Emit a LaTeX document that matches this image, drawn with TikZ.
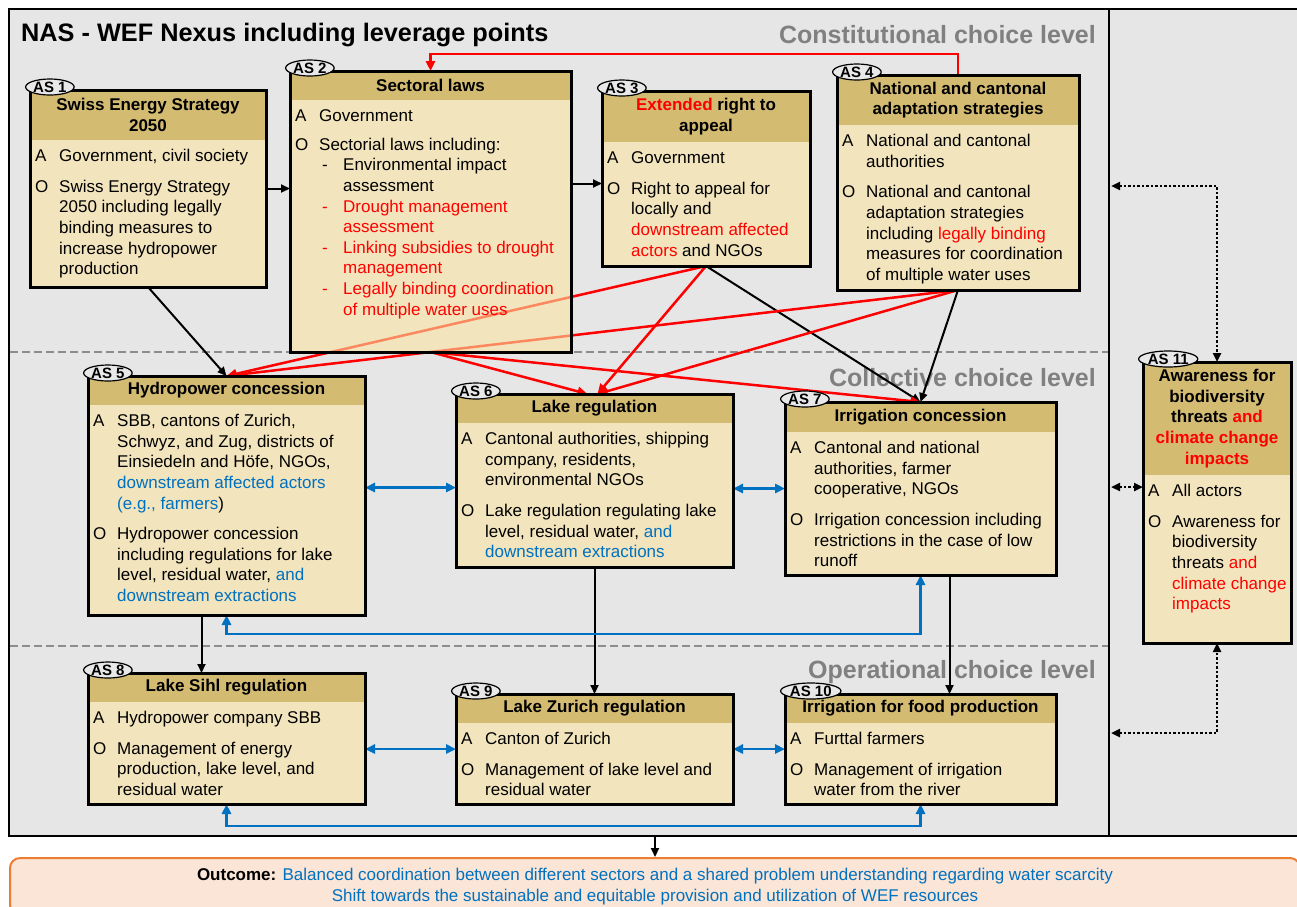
\documentclass[tikz,border=0pt]{standalone}
\usepackage{fontspec}
\setmainfont{Liberation Sans}
\usetikzlibrary{shapes.geometric,arrows.meta,calc,positioning}

\definecolor{hdrtan}{HTML}{D4BB72}
\definecolor{bodytan}{HTML}{F2E4BC}
\definecolor{as2see}{HTML}{FAE3A0}
\definecolor{bggrey}{HTML}{E6E6E6}
\definecolor{levelgrey}{HTML}{808080}
\definecolor{linkblue}{HTML}{0070C0}
\definecolor{linkred}{HTML}{FF0000}
\definecolor{outfill}{HTML}{FBE5D6}
\definecolor{outline}{HTML}{ED7D31}
\definecolor{tagfill}{HTML}{E8E8E8}

\pgfdeclarelayer{background}
\pgfdeclarelayer{links}
\pgfsetlayers{background,links,main}

\newcommand{\hlred}[1]{\textcolor{linkred}{#1}}
\newcommand{\hlblue}[1]{\textcolor{linkblue}{#1}}
\newcommand{\lawitem}[1]{\makebox[24pt][l]{\hspace{3pt}-}#1}
\newcommand{\lawcont}[1]{\hspace{24pt}#1}
\newenvironment{aolist}{\begin{tabular}{@{}p{24pt}@{}l@{}}}{\end{tabular}}

\tikzset{
  asframe/.style={draw, line width=3pt, fill=bodytan, anchor=north west, inner sep=0pt, outer sep=0pt},
  hdrtext/.style={font=\bfseries\fontsize{17}{20.6}\selectfont, align=center, inner sep=0pt},
  bodytext/.style={font=\fontsize{17}{20.6}\selectfont, anchor=north west, inner sep=0pt},
  astag/.style={ellipse, draw, line width=1.2pt, fill=tagfill, inner xsep=0.5pt, inner ysep=0pt,
    minimum height=16pt, font=\bfseries\fontsize{15}{15}\selectfont},
  levellabel/.style={font=\bfseries\fontsize{25}{25}\selectfont, text=levelgrey, anchor=base east, inner sep=0pt},
  levelsep/.style={draw=levelgrey!90, line width=2.5pt, dash pattern=on 8pt off 4pt},
  blk/.style={line width=2pt, -{Triangle[length=9pt,width=8pt]}},
  redlink/.style={linkred, line width=2.5pt, -{Triangle[length=10pt,width=9pt]}},
  blulink/.style={linkblue, line width=2.5pt, {Triangle[length=10pt,width=9pt]}-{Triangle[length=10pt,width=9pt]}},
  dotlink/.style={line width=2.5pt, dotted, {Triangle[length=9pt,width=8pt]}-{Triangle[length=9pt,width=8pt]}},
  outbox/.style={draw=outline, line width=2pt, fill=outfill, rounded corners=10pt, minimum width=1290pt,
    minimum height=57pt, align=center, font=\fontsize{17}{21}\selectfont},
}

% action situation box: [opts]{no}{x}{y}{width}{height}{header height}{header}{rows}
\newcommand{\asbox}[9][]{%
  \node[asframe, minimum width=#5pt, minimum height=#6pt, #1] (as#2) at (#3,#4) {};
  \fill[hdrtan] ([shift={(1.5pt,-1.5pt)}]as#2.north west) rectangle ([shift={(-1.5pt,-#7pt)}]as#2.north east);
  \node[hdrtext] (as#2h) at ([yshift=-#7pt/2]as#2.north) {#8};
  \node[bodytext] (as#2b) at ([shift={(5pt,-#7pt-7pt)}]as#2.north west) {\begin{aolist}#9\end{aolist}};
  \node[astag, anchor=west] (as#2t) at ([shift={(-5pt,3pt)}]as#2.north west) {AS #2};
}

\begin{document}
\begin{tikzpicture}[x=1pt,y=-1pt]
    \useasboundingbox (0,0) rectangle (1297,906);

    % frame, levels and title
    \begin{pgfonlayer}{background}
        \node[draw, line width=2pt, fill=bggrey, anchor=north west, minimum width=1292pt,
            minimum height=827pt, inner sep=0pt, outer sep=0pt] (frame) at (9,9) {};
        \coordinate (septop) at (1109,9);
        \coordinate (sepbot) at (1109,836);
        \draw[line width=2pt] (septop) -- (sepbot);
        \draw[levelsep] (10,352) -- (1108,352);
        \draw[levelsep] (10,646) -- (1108,646);
        \node[levellabel] (constlevel) at (1096,43) {Constitutional choice level};
        \node[levellabel] (colllevel) at (1096,386) {Collective choice level};
        \node[levellabel] (oplevel) at (1096,678) {Operational choice level};
    \end{pgfonlayer}
    \node[font=\bfseries\fontsize{25.3}{25}\selectfont, anchor=base west, inner sep=0pt] (title) at (21,41)
        {NAS - WEF Nexus including leverage points};

    % constitutional choice level
    \asbox{1}{30}{90}{236}{197}{50}{Swiss Energy Strategy\\2050}{%
        A & Government, civil society\\[10pt]
        O & Swiss Energy Strategy\\
          & 2050 including legally\\
          & binding measures to\\
          & increase hydropower\\
          & production}
    \asbox[fill=as2see, fill opacity=0.6]{2}{290}{71}{281}{281}{29}{Sectoral laws}{%
        A & Government\\[8pt]
        O & Sectorial laws including:\\
          & \lawitem{Environmental impact}\\
          & \lawcont{assessment}\\
          & \hlred{\lawitem{Drought management}}\\
          & \hlred{\lawcont{assessment}}\\
          & \hlred{\lawitem{Linking subsidies to drought}}\\
          & \hlred{\lawcont{management}}\\
          & \hlred{\lawitem{Legally binding coordination}}\\
          & \hlred{\lawcont{of multiple water uses}}}
    \asbox{3}{602}{91}{208}{175}{51}{\hlred{Extended} right to\\appeal}{%
        A & Government\\[10pt]
        O & Right to appeal for\\
          & locally and\\
          & \hlred{downstream affected}\\
          & \hlred{actors} and NGOs}
    \asbox{4}{837}{75}{242}{215}{50}{National and cantonal\\adaptation strategies}{%
        A & National and cantonal\\
          & authorities\\[10pt]
        O & National and cantonal\\
          & adaptation strategies\\
          & including \hlred{legally binding}\\
          & measures for coordination\\
          & of multiple water uses}

    % collective choice level
    \asbox{5}{88}{376}{277}{239}{29}{Hydropower concession}{%
        A & SBB, cantons of Zurich,\\
          & Schwyz, and Zug, districts of\\
          & Einsiedeln and Höfe, NGOs,\\
          & \hlblue{downstream affected actors}\\
          & \hlblue{(e.g., farmers})\\[10pt]
        O & Hydropower concession\\
          & including regulations for lake\\
          & level, residual water, \hlblue{and}\\
          & \hlblue{downstream extractions}}
    \asbox{6}{456}{394}{277}{173}{29}{Lake regulation}{%
        A & Cantonal authorities, shipping\\
          & company, residents,\\
          & environmental NGOs\\[10pt]
        O & Lake regulation regulating lake\\
          & level, residual water, \hlblue{and}\\
          & \hlblue{downstream extractions}}
    \asbox{7}{785}{402}{271}{173}{30}{Irrigation concession}{%
        A & Cantonal and national\\
          & authorities, farmer\\
          & cooperative, NGOs\\[10pt]
        O & Irrigation concession including\\
          & restrictions in the case of low\\
          & runoff}

    % operational choice level
    \asbox{8}{88}{673}{277}{131}{29}{Lake Sihl regulation}{%
        A & Hydropower company SBB\\[10pt]
        O & Management of energy\\
          & production, lake level, and\\
          & residual water}
    \asbox{9}{456}{694}{277}{110}{29}{Lake Zurich regulation}{%
        A & Canton of Zurich\\[10pt]
        O & Management of lake level and\\
          & residual water}
    \asbox{10}{785}{694}{271}{110}{29}{Irrigation for food production}{%
        A & Furttal farmers\\[10pt]
        O & Management of irrigation\\
          & water from the river}

    % awareness, across all levels
    \asbox{11}{1143}{362}{148}{281}{113}{Awareness for\\biodiversity\\threats \hlred{and}\\\hlred{climate change}\\\hlred{impacts}}{%
        A & All actors\\[10pt]
        O & Awareness for\\
          & biodiversity\\
          & threats \hlred{and}\\
          & \hlred{climate change}\\
          & \hlred{impacts}}

    % outcome
    \node[outbox] (outcome) at (655,886.5) {\textbf{Outcome:} \hlblue{Balanced coordination between different sectors and a shared problem understanding regarding water scarcity}\\
        \hlblue{Shift towards the sustainable and equitable provision and utilization of WEF resources}};

    \begin{pgfonlayer}{links}
        % black links
        \draw[blk] (as1.east) -- (as1.east -| as2.west);
        \draw[blk] ($(as2.east |- as3.west)+(0,5)$) -- ($(as3.west)+(0,5)$);
        \draw[blk] (as1.south) -- (as5.north);
        \draw[blk] (as3.south) -- (as7.north);
        \draw[blk] (as4.south) -- (as7.north);
        \draw[blk] ($(as5.south)+(-25,0)$) -- ($(as8.north)+(-25,0)$);
        \draw[blk] (as6.south) -- (as9.north);
        \draw[blk] ($(as7.south)+(29,0)$) -- ($(as10.north)+(29,0)$);
        \draw[blk] (frame.south) -- (outcome.north);
        % leverage points
        \draw[redlink] (as4.north) -- ++(0,-21) -| (as2.north);
        \draw[redlink] (as3.south) -- (as5.north);
        \draw[redlink] (as4.south) -- (as5.north);
        \draw[redlink] (as3.south) -- ($(as6.north)+(3,0)$);
        \draw[redlink] (as4.south) -- ($(as6.north)+(3,0)$);
        \draw[redlink] (as2.south) -- ($(as6.north)+(-7,0)$);
        \draw[redlink] (as2.south) -- (as7.north);
        % horizontal exchange
        \draw[blulink] ($(as5.east)+(0,-8)$) -- ($(as6.west)+(0,7)$);
        \draw[blulink] (as6.east |- as7.west) -- (as7.west);
        \draw[blulink] (as5.south) -- ++(0,19) -| (as7.south);
        \draw[blulink] (as8.east |- as9.west) -- (as9.west);
        \draw[blulink] (as9.east) -- (as10.west);
        \draw[blulink] (as8.south) -- ++(0,22) -| (as10.south);
        % awareness feedback
        \coordinate (sepA) at (1111,186);
        \coordinate (sepB) at (1111,487);
        \coordinate (sepC) at (1111,733);
        \draw[dotlink] (sepA) -| (as11.north);
        \draw[dotlink] (sepB) -- (as11.west |- sepB);
        \draw[dotlink] (sepC) -| (as11.south);
    \end{pgfonlayer}
\end{tikzpicture}
\end{document}
